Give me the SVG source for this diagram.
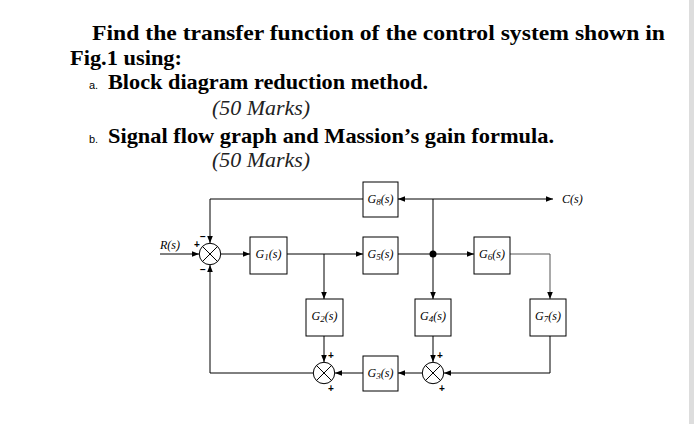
<svg xmlns="http://www.w3.org/2000/svg" width="700" height="424" viewBox="0 0 700 424">
<defs>
<marker id="ah" viewBox="0 0 10 10" refX="10" refY="5" markerWidth="7" markerHeight="7" orient="auto" markerUnits="userSpaceOnUse"><path d="M0,1 L10,5 L0,9 Z" fill="#000"/></marker>
</defs>
<style>
.h{font-family:"Liberation Serif",serif;font-weight:bold;font-size:21px;fill:#000}
.m{font-family:"Liberation Serif",serif;font-style:italic;font-size:20px;fill:#222}
.s{font-family:"Liberation Sans",sans-serif;font-size:11px;fill:#000}
.b{fill:#fff;stroke:#000;stroke-width:1}
.l{font-family:"Liberation Serif",serif;font-style:italic;font-size:12px;fill:#000}
.w{fill:none;stroke:#000;stroke-width:1}
.sum{fill:#fff;stroke:#000;stroke-width:1}
.p{font-family:"Liberation Sans",sans-serif;font-size:10px;font-weight:bold;fill:#000}
</style>
<rect width="700" height="424" fill="#fff"/>
<rect x="689" y="0" width="5" height="424" fill="#ddd"/>
<text class="h" x="92" y="40" textLength="573" lengthAdjust="spacingAndGlyphs">Find the transfer function of the control system shown in</text>
<text class="h" x="70" y="65" textLength="112" lengthAdjust="spacingAndGlyphs">Fig.1 using:</text>
<text class="s" x="89" y="89">a.</text>
<text class="h" x="108" y="89" textLength="320" lengthAdjust="spacingAndGlyphs">Block diagram reduction method.</text>
<text class="m" x="212" y="115" textLength="98" lengthAdjust="spacingAndGlyphs">(50 Marks)</text>
<text class="s" x="89" y="143">b.</text>
<text class="h" x="108" y="143" textLength="446" lengthAdjust="spacingAndGlyphs">Signal flow graph and Massion’s gain formula.</text>
<text class="m" x="212" y="167" textLength="98" lengthAdjust="spacingAndGlyphs">(50 Marks)</text>

<g id="connectors" class="w">
<path d="M160,254 H199" marker-end="url(#ah)"/>
<path d="M221,254 H250" marker-end="url(#ah)"/>
<path d="M287,254 H363" marker-end="url(#ah)"/>
<path d="M324,254 V299" marker-end="url(#ah)"/>
<path d="M398,254 H474" marker-end="url(#ah)"/>
<path d="M433,254 V299" marker-end="url(#ah)"/>
<path d="M433,254 V199"/>
<path d="M433,199 H553" marker-end="url(#ah)"/>
<path d="M433,199 H398" marker-end="url(#ah)"/>
<path d="M363,199 H210 V243" marker-end="url(#ah)"/>
<path d="M510,254 H550 V299" marker-end="url(#ah)" stroke="#555"/>
<path d="M550,336 V373 H444" marker-end="url(#ah)"/>
<path d="M433,336 V362" marker-end="url(#ah)"/>
<path d="M422,373 H398" marker-end="url(#ah)"/>
<path d="M363,373 H335" marker-end="url(#ah)"/>
<path d="M324,336 V362" marker-end="url(#ah)"/>
<path d="M313,373 H210 V265" marker-end="url(#ah)"/>
</g>
<circle cx="433" cy="254" r="3.5" fill="#000"/>

<g id="sum1"><circle class="sum" cx="210" cy="254" r="10.7"/><path class="w" d="M202.4,246.4 L217.6,261.6 M217.6,246.4 L202.4,261.6"/>
<text class="p" x="194" y="248">+</text><text class="p" x="200" y="240">−</text><text class="p" x="200" y="273">−</text></g>
<g id="sum2"><circle class="sum" cx="324" cy="373" r="10.7"/><path class="w" d="M316.4,365.4 L331.6,380.6 M331.6,365.4 L316.4,380.6"/>
<text class="p" x="328" y="359">+</text><text class="p" x="328" y="392">+</text></g>
<g id="sum3"><circle class="sum" cx="433" cy="373" r="10.7"/><path class="w" d="M425.4,365.4 L440.6,380.6 M440.6,365.4 L425.4,380.6"/>
<text class="p" x="437" y="359">+</text><text class="p" x="439" y="392">+</text></g>

<g id="G8"><rect class="b" x="363" y="182" width="35" height="35"/><text class="l" x="380.5" y="203" text-anchor="middle">G<tspan font-size="9" dy="2">8</tspan><tspan dy="-2">(s)</tspan></text></g>
<g id="G1"><rect class="b" x="250" y="237" width="37" height="37"/><text class="l" x="268.5" y="258" text-anchor="middle">G<tspan font-size="9" dy="2">1</tspan><tspan dy="-2">(s)</tspan></text></g>
<g id="G5"><rect class="b" x="363" y="237" width="35" height="37"/><text class="l" x="380.5" y="258" text-anchor="middle">G<tspan font-size="9" dy="2">5</tspan><tspan dy="-2">(s)</tspan></text></g>
<g id="G6"><rect class="b" x="474" y="237" width="36" height="37"/><text class="l" x="492" y="258" text-anchor="middle">G<tspan font-size="9" dy="2">6</tspan><tspan dy="-2">(s)</tspan></text></g>
<g id="G2"><rect class="b" x="306" y="299" width="37" height="37"/><text class="l" x="324.5" y="320" text-anchor="middle">G<tspan font-size="9" dy="2">2</tspan><tspan dy="-2">(s)</tspan></text></g>
<g id="G4"><rect class="b" x="415" y="299" width="36" height="37"/><text class="l" x="433" y="320" text-anchor="middle">G<tspan font-size="9" dy="2">4</tspan><tspan dy="-2">(s)</tspan></text></g>
<g id="G7"><rect class="b" x="530" y="299" width="36" height="37"/><text class="l" x="548" y="320" text-anchor="middle">G<tspan font-size="9" dy="2">7</tspan><tspan dy="-2">(s)</tspan></text></g>
<g id="G3"><rect class="b" x="363" y="356" width="35" height="35"/><text class="l" x="380.5" y="377" text-anchor="middle">G<tspan font-size="9" dy="2">3</tspan><tspan dy="-2">(s)</tspan></text></g>
<text class="l" x="160" y="249">R(s)</text>
<text class="l" x="562" y="203">C(s)</text>
</svg>
